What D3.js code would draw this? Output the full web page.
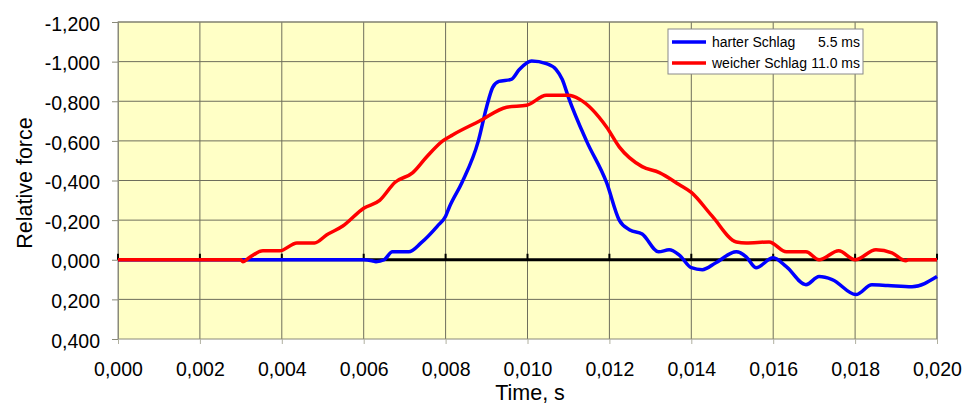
<!DOCTYPE html>
<html>
<head>
<meta charset="utf-8">
<script src="https://cdn.jsdelivr.net/npm/d3@7"></script>
<style>
  body { margin: 0; background: #fff; }
  text { font-family: "Liberation Sans", Arial, sans-serif; }
</style>
</head>
<body>
<script>
// time [s], relative force (negative = up)
const harter = [
  [0, 0], [0.006, 0], [0.0062, 0.005], [0.0063, 0.01], [0.0065, 0], [0.0067, -0.04],
  [0.0071, -0.04], [0.0074, -0.085], [0.0078, -0.17], [0.0080, -0.22], [0.0081, -0.27],
  [0.0084, -0.39], [0.0088, -0.60], [0.0090, -0.77], [0.00915, -0.87], [0.0093, -0.90],
  [0.0096, -0.91], [0.0098, -0.96], [0.0101, -1.003], [0.01046, -0.99], [0.0107, -0.96],
  [0.01085, -0.91], [0.0110, -0.82], [0.01144, -0.60], [0.01193, -0.39], [0.01224, -0.20],
  [0.0125, -0.15], [0.0128, -0.13], [0.0132, -0.04], [0.01346, -0.05], [0.0137, -0.025],
  [0.0140, 0.04], [0.01427, 0.05], [0.0146, 0.015], [0.0151, -0.04], [0.01534, -0.015],
  [0.01558, 0.04], [0.0160, -0.01], [0.01632, 0.035], [0.0168, 0.126], [0.01712, 0.085],
  [0.01744, 0.10], [0.01802, 0.176], [0.01841, 0.126], [0.0188, 0.13], [0.01939, 0.136],
  [0.0200, 0.085]
];
const weicher = [
  [0, 0], [0.0030, 0], [0.00305, 0.01], [0.0032, -0.01], [0.00354, -0.045], [0.00395, -0.045],
  [0.00437, -0.085], [0.0048, -0.085], [0.0051, -0.126], [0.00549, -0.17], [0.006, -0.26],
  [0.00639, -0.30], [0.00676, -0.39], [0.0072, -0.44], [0.00754, -0.52], [0.00793, -0.60],
  [0.00817, -0.63], [0.00883, -0.70], [0.00949, -0.77], [0.00998, -0.78], [0.01046, -0.83],
  [0.0110, -0.83], [0.01127, -0.81], [0.01193, -0.67], [0.01224, -0.57], [0.0128, -0.47],
  [0.01322, -0.44], [0.0137, -0.38], [0.0140, -0.34], [0.01451, -0.22], [0.0151, -0.09],
  [0.01534, -0.085], [0.0159, -0.09], [0.01632, -0.04], [0.0168, -0.04], [0.01712, 0],
  [0.0176, -0.045], [0.018, 0], [0.01851, -0.05], [0.0189, -0.035], [0.01924, 0.005],
  [0.0193, 0], [0.020, 0]
];
const xTicks = d3.range(0, 11).map(i => i * 0.002);
const yTicks = [-1.2, -1.0, -0.8, -0.6, -0.4, -0.2, 0, 0.2, 0.4];
const series = [
  { name: "harter Schlag", dur: "5.5 ms", color: "#0000ff", data: harter },
  { name: "weicher Schlag", dur: "11.0 ms", color: "#ff0000", data: weicher }
];

const width = 965, height = 405;
const m = { left: 118, right: 937, top: 22, bottom: 339 };

const x = d3.scaleLinear().domain([0, 0.02]).range([m.left, m.right]);
const y = d3.scaleLinear().domain([-1.2, 0.4]).range([m.top, m.bottom]);
const fmt = d3.formatLocale({ decimal: ",", thousands: ".", grouping: [3], currency: ["", ""], minus: "-" }).format(".3f");

const svg = d3.select("body").append("svg")
  .attr("width", width)
  .attr("height", height);

// plot area
svg.append("rect")
  .attr("x", m.left).attr("y", m.top)
  .attr("width", m.right - m.left).attr("height", m.bottom - m.top)
  .attr("fill", "#ffffc6");

// grid
svg.append("g").selectAll("line").data(xTicks.slice(1))
  .join("line")
  .attr("x1", d => x(d)).attr("x2", d => x(d))
  .attr("y1", m.top).attr("y2", m.bottom)
  .attr("stroke", "#6e6e5c").attr("stroke-width", 1);
svg.append("g").selectAll("line").data(yTicks.slice(0, -1))
  .join("line")
  .attr("x1", m.left).attr("x2", m.right)
  .attr("y1", d => y(d)).attr("y2", d => y(d))
  .attr("stroke", "#6e6e5c").attr("stroke-width", 1);

// plot border
svg.append("rect")
  .attr("x", m.left).attr("y", m.top)
  .attr("width", m.right - m.left).attr("height", m.bottom - m.top)
  .attr("fill", "none").attr("stroke", "#8a8a7a");

// y axis
const yAxis = svg.append("g")
  .attr("transform", `translate(${m.left},0)`)
  .call(d3.axisLeft(y).tickValues(yTicks).tickFormat(fmt).tickSize(6).tickPadding(12));
yAxis.select(".domain").attr("stroke", "#8a8a7a");
yAxis.selectAll(".tick line").attr("stroke", "#8a8a7a");
yAxis.selectAll("text").attr("font-size", 19.5).attr("fill", "#000").attr("dy", "0.42em")
  .attr("font-family", "Liberation Sans, Arial, sans-serif");

// x axis at bottom (labels)
const xAxis = svg.append("g")
  .attr("transform", `translate(0,${m.bottom})`)
  .call(d3.axisBottom(x).tickValues(xTicks).tickFormat(fmt).tickSize(5).tickPadding(18));
xAxis.select(".domain").remove();
xAxis.selectAll(".tick line").attr("stroke", "#b0b0a0");
xAxis.selectAll("text").attr("font-size", 19.5).attr("fill", "#000")
  .attr("font-family", "Liberation Sans, Arial, sans-serif");

// zero line with ticks
svg.append("line")
  .attr("x1", m.left).attr("x2", m.right)
  .attr("y1", y(0)).attr("y2", y(0))
  .attr("stroke", "#000").attr("stroke-width", 3);
svg.append("g").selectAll("line").data(xTicks)
  .join("line")
  .attr("x1", d => x(d)).attr("x2", d => x(d))
  .attr("y1", y(0) - 6).attr("y2", y(0))
  .attr("stroke", "#000").attr("stroke-width", 2);

// curves
const line = d3.line()
  .x(d => x(d[0]))
  .y(d => y(d[1]))
  .curve(d3.curveMonotoneX);
svg.append("g").selectAll("path").data(series)
  .join("path")
  .attr("d", d => line(d.data))
  .attr("fill", "none")
  .attr("stroke", d => d.color)
  .attr("stroke-width", 3.5)
  .attr("stroke-linejoin", "round");

// axis titles
svg.append("text")
  .attr("transform", "translate(32,183) rotate(-90)")
  .attr("text-anchor", "middle")
  .attr("font-size", 21.5)
  .text("Relative force");
svg.append("text")
  .attr("x", 530).attr("y", 400)
  .attr("text-anchor", "middle")
  .attr("font-size", 21.5)
  .text("Time, s");

// legend
const lg = svg.append("g").attr("transform", "translate(668,29)");
lg.append("rect")
  .attr("width", 195).attr("height", 45)
  .attr("fill", "#fff").attr("stroke", "#8a8a8a");
const items = lg.selectAll("g").data(series).join("g")
  .attr("transform", (d, i) => `translate(0,${13 + i * 21})`);
items.append("line")
  .attr("x1", 4).attr("x2", 38)
  .attr("stroke", d => d.color).attr("stroke-width", 3.5);
items.append("text")
  .attr("x", 44).attr("y", 5)
  .attr("font-size", 14)
  .text(d => d.name);
items.append("text")
  .attr("x", 192).attr("y", 5)
  .attr("text-anchor", "end")
  .attr("font-size", 14)
  .text(d => d.dur);
</script>
</body>
</html>
